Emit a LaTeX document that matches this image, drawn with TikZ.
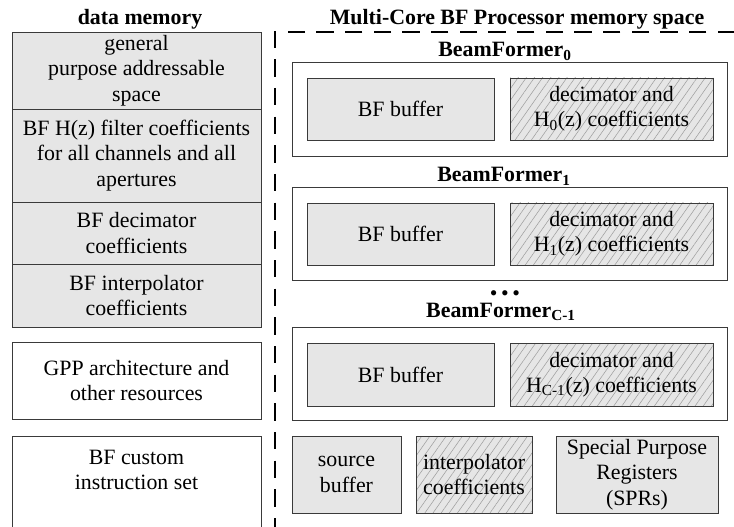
\documentclass[tikz,border=0pt]{standalone}
\usepackage{fontspec}
\setmainfont{Liberation Serif}
\usetikzlibrary{patterns.meta}
\definecolor{gfill}{HTML}{E6E6E6}
\definecolor{edge}{HTML}{3A3A3A}
\tikzset{
 sz/.style 2 args={minimum width=#1*0.75pt, minimum height=#2*0.75pt},
 cell/.style={draw=edge, line width=0.7pt, inner sep=0pt, align=center, font=\fontsize{16.4}{19}\selectfont},
 grayc/.style={cell, fill=gfill},
 whitec/.style={cell, fill=white},
 hatchc/.style={cell, preaction={fill=gfill}, pattern={Lines[angle=55,distance=5pt,line width=0.4pt]}, pattern color=black!38},
 txt/.style={inner sep=0pt, align=center, font=\fontsize{16.4}{19}\selectfont},
 ttl/.style={inner sep=0pt, anchor=base, text height=0.68em, text depth=0.2em, font=\bfseries\fontsize{16.4}{19}\selectfont},
 region/.style={draw, line width=2pt, dash pattern=on 13pt off 8.5pt, inner sep=0pt},
}
\begin{document}
\begin{tikzpicture}[x=0.75pt,y=-0.75pt]
\clip (0,0) rectangle (734,527);
\fill[white] (0,0) rectangle (734,527);

% titles
\node[ttl] (dmt) at (140,25) {data memory};
\node[ttl] (mct) at (517,25) {Multi-Core BF Processor memory space};

% left column
\node[grayc, sz={249}{77}] (gp) at (136.5,70.5) {general\\purpose addressable\\space};
\node[grayc, sz={249}{93}] (hz) at (136.5,155.5) {BF H(z) filter coefficients\\for all channels and all\\apertures};
\node[grayc, sz={249}{62}] (dec) at (136.5,233) {BF decimator\\coefficients};
\node[grayc, sz={249}{63}] (int) at (136.5,295.5) {BF interpolator\\coefficients};
\node[whitec, sz={249}{77}] (gpp) at (136.5,380.5) {GPP architecture and\\other resources};
\node[whitec, sz={249}{144}] (cis) at (136.5,508) {};
\node[txt] (cist) at (136.5,470) {BF custom\\instruction set};

% dashed region
\node[region, sz={505}{568}] (mc) at (527.5,316) {};

% BeamFormer 0
\node[ttl] (bf0t) at (505,57) {BeamFormer\textsubscript{0}};
\node[whitec, sz={435}{94}] (bf0) at (509.5,109.5) {};
\node[grayc, sz={187}{62}] (bf0b) at (400.5,109) {BF buffer};
\node[hatchc, sz={203}{62}] (bf0c) at (611.5,109) {decimator and\\H\textsubscript{0}(z) coefficients};

% BeamFormer 1
\node[ttl] (bf1t) at (504,182) {BeamFormer\textsubscript{1}};
\node[whitec, sz={435}{93}] (bf1) at (509.5,233.5) {};
\node[grayc, sz={187}{62}] (bf1b) at (400.5,234) {BF buffer};
\node[hatchc, sz={203}{62}] (bf1c) at (611.5,234) {decimator and\\H\textsubscript{1}(z) coefficients};

% dots
\node[txt, anchor=base, text height=0.5em, text depth=0pt] (dots) at (505,300) {\textbullet\,\textbullet\,\textbullet};

% BeamFormer C-1
\node[ttl] (bfct) at (501,317) {BeamFormer\textsubscript{C-1}};
\node[whitec, sz={435}{93}] (bfc) at (509.5,373.5) {};
\node[grayc, sz={187}{63}] (bfcb) at (400.5,374.5) {BF buffer};
\node[hatchc, sz={203}{63}] (bfcc) at (611.5,374.5) {decimator and\\H\textsubscript{C-1}(z) coefficients};

% bottom row
\node[grayc, sz={109}{77}] (src) at (346.5,474.5) {source\\buffer};
\node[hatchc, sz={116}{77}] (ipc) at (474,474.5) {interpolator\\coefficients};
\node[grayc, sz={162}{77}] (spr) at (637,474.5) {Special Purpose\\Registers\\(SPRs)};
\end{tikzpicture}
\end{document}
